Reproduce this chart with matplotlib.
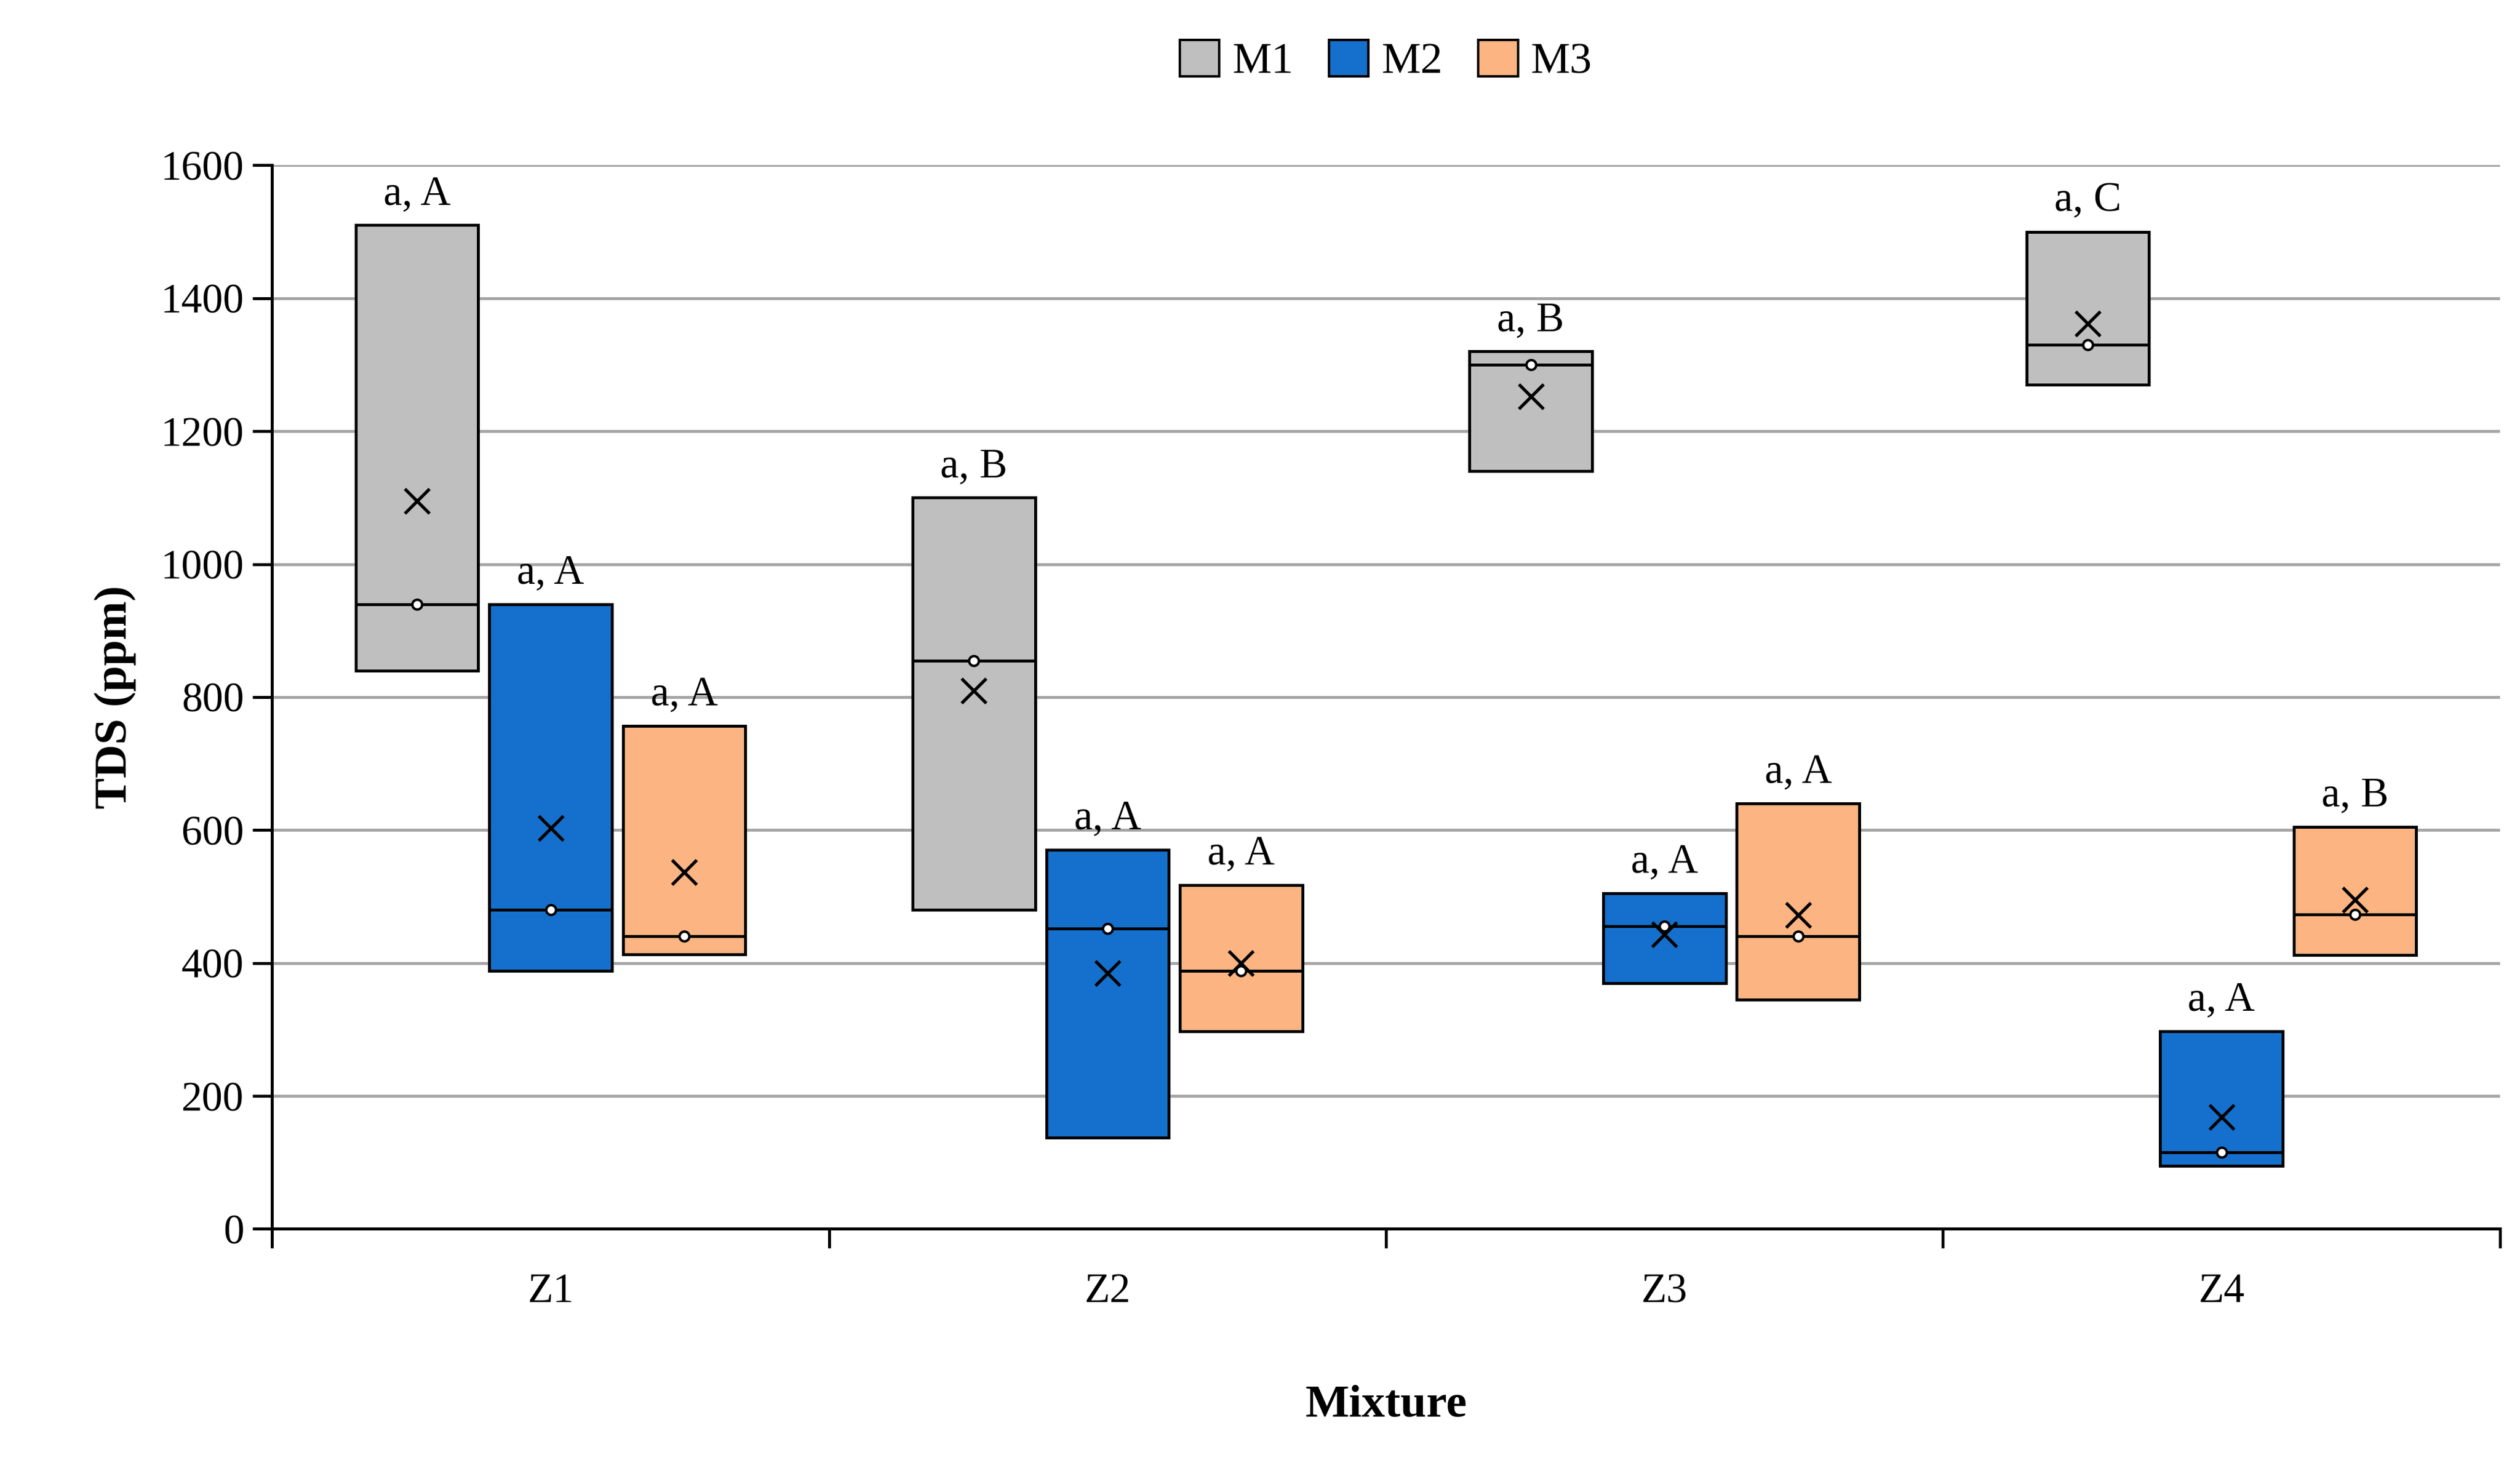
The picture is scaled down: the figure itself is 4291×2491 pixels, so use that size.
import numpy as np
import matplotlib.pyplot as plt
from matplotlib.patches import Patch

plt.rcParams['font.family'] = ['Liberation Serif', 'DejaVu Serif']

mixtures = ['Z1', 'Z2', 'Z3', 'Z4']
series = ['M1', 'M2', 'M3']
colors = ['#bfbfbf', '#1470cc', '#fbb482']

# box bottom, box top, median, mean per series (rows) and mixture (cols)
box_low = [[840, 480, 1140, 1270],
           [388, 137, 370, 95],
           [413, 297, 345, 412]]
box_high = [[1510, 1100, 1320, 1500],
            [940, 570, 505, 297],
            [757, 517, 640, 605]]
medians = [[940, 855, 1300, 1330],
           [480, 452, 455, 115],
           [440, 388, 440, 473]]
means = [[1095, 810, 1252, 1362],
         [603, 385, 443, 168],
         [537, 400, 472, 495]]
letters = [['a, A', 'a, B', 'a, B', 'a, C'],
           ['a, A', 'a, A', 'a, A', 'a, A'],
           ['a, A', 'a, A', 'a, A', 'a, B']]

fig = plt.figure(figsize=(4291 / 300, 2491 / 300), dpi=300)
ax = fig.add_axes([0.108, 0.16, 0.884, 0.727])

x = np.arange(len(mixtures))
offsets = [-0.24, 0.0, 0.24]
w = 0.22
for s in range(3):
    for i in range(len(mixtures)):
        xc = x[i] + offsets[s]
        lo, hi = box_low[s][i], box_high[s][i]
        ax.bar(xc, hi - lo, bottom=lo, width=w, color=colors[s],
               edgecolor='black', linewidth=1.2, zorder=3)
        ax.plot([xc - w / 2, xc + w / 2], [medians[s][i]] * 2, color='black',
                lw=1.2, zorder=4)
        ax.plot(xc, medians[s][i], 'o', ms=4, mfc='white', mec='black',
                mew=1.0, zorder=5)
        ax.plot(xc, means[s][i], 'x', ms=10, color='black', mew=1.3, zorder=5)
        ax.text(xc, hi + 18, letters[s][i], ha='center', va='bottom', fontsize=17)

ax.set_xlim(-0.5, 3.5)
ax.set_ylim(0, 1600)
ax.set_yticks(range(0, 1601, 200))
ax.set_xticks([-0.5, 0.5, 1.5, 2.5, 3.5], minor=False)
ax.set_xticklabels([])
ax.set_xticks(x, minor=True)
ax.set_xticklabels(mixtures, minor=True)
ax.tick_params(axis='x', which='minor', length=0, pad=18, labelsize=17)
ax.tick_params(axis='x', which='major', length=8, width=1.2)
ax.tick_params(axis='y', length=8, width=1.2, labelsize=17)
ax.yaxis.grid(True, color='#a6a6a6', lw=1.2, zorder=0)
for sp in ['top', 'right']:
    ax.spines[sp].set_visible(False)
for sp in ['left', 'bottom']:
    ax.spines[sp].set_linewidth(1.2)

ax.set_ylabel('TDS (ppm)', fontsize=19, fontweight='bold', labelpad=10)
ax.set_xlabel('Mixture', fontsize=19, fontweight='bold', labelpad=30)

handles = [Patch(facecolor=c, edgecolor='black', label=l) for c, l in zip(colors, series)]
fig.legend(handles=handles, loc='upper center', bbox_to_anchor=(0.55, 1.0), ncol=3,
           frameon=False, fontsize=18, handlelength=0.9, handleheight=0.9,
           handletextpad=0.3, columnspacing=0.8)

fig.savefig('out.png', dpi=300)
